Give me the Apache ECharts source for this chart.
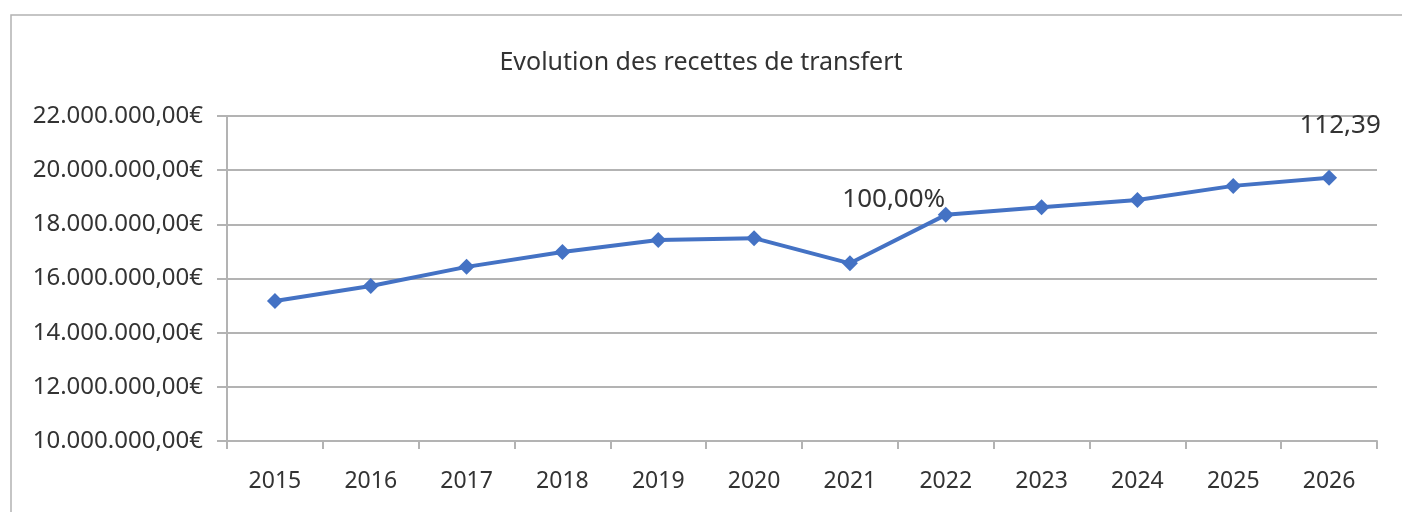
<!DOCTYPE html>
<html>
<head>
<meta charset="utf-8">
<script src="https://cdn.jsdelivr.net/npm/echarts@6/dist/echarts.min.js"></script>
<style>
  html, body { margin: 0; padding: 0; background: #fff; }
  #chart { width: 1402px; height: 512px; }
</style>
</head>
<body>
<div id="chart"></div>
<script>
// années et recettes de transfert (en euros)
var years = ['2015', '2016', '2017', '2018', '2019', '2020', '2021', '2022', '2023', '2024', '2025', '2026'];
var recettes = [15170000, 15720000, 16430000, 16980000, 17420000, 17490000, 16560000, 18350000, 18630000, 18900000, 19420000, 19720000];
// étiquettes affichées sur certains points
var pointLabels = ['', '', '', '', '', '', '', '100,00%', '', '', '', '112,39'];
var yTicks = [10000000, 12000000, 14000000, 16000000, 18000000, 20000000, 22000000];

var font = 'Noto Sans';
var grey = '#b3b3b3';

function euro(v) {
    var s = String(Math.round(v)).replace(/\B(?=(\d{3})+(?!\d))/g, '.');
    return s + ',00€';
}

var labelOffsets = { 7: [-52, 11], 11: [11, -26] };

var seriesData = recettes.map(function (v, i) {
    var item = { value: v };
    if (pointLabels[i]) {
        item.label = {
            show: true,
            formatter: pointLabels[i],
            position: 'top',
            offset: labelOffsets[i],
            fontFamily: font,
            fontSize: 26,
            color: '#333'
        };
    }
    return item;
});

var chart = echarts.init(document.getElementById('chart'));
chart.setOption({
    animation: false,
    textStyle: { fontFamily: font },
    title: {
        text: 'Evolution des recettes de transfert',
        left: 'center',
        top: 45,
        textStyle: { fontFamily: font, fontSize: 25, fontWeight: 'normal', color: '#333' }
    },
    graphic: [{
        type: 'rect',
        shape: { x: 11, y: 15, width: 1420, height: 520 },
        style: { fill: 'none', stroke: grey, lineWidth: 1.5 },
        silent: true
    }],
    grid: { left: 227, right: 25, top: 116, bottom: 71 },
    xAxis: {
        type: 'category',
        data: years,
        boundaryGap: true,
        axisLine: { show: true, lineStyle: { color: grey, width: 2 } },
        axisTick: { show: true, length: 8, lineStyle: { color: grey, width: 2 } },
        axisLabel: { margin: 29, fontSize: 23, color: '#333', fontFamily: font },
        splitLine: { show: false }
    },
    yAxis: {
        type: 'value',
        min: yTicks[0],
        max: yTicks[yTicks.length - 1],
        interval: 2000000,
        axisLine: { show: true, lineStyle: { color: grey, width: 2 } },
        axisTick: { show: true, length: 10, lineStyle: { color: grey, width: 2 } },
        axisLabel: { margin: 24, fontSize: 24, color: '#333', fontFamily: font, formatter: euro },
        splitLine: { show: true, lineStyle: { color: grey, width: 2 } }
    },
    series: [{
        type: 'line',
        data: seriesData,
        symbol: 'diamond',
        symbolSize: 16,
        lineStyle: { color: '#4472C4', width: 4 },
        itemStyle: { color: '#4472C4' },
        label: { show: false }
    }]
});
</script>
</body>
</html>
